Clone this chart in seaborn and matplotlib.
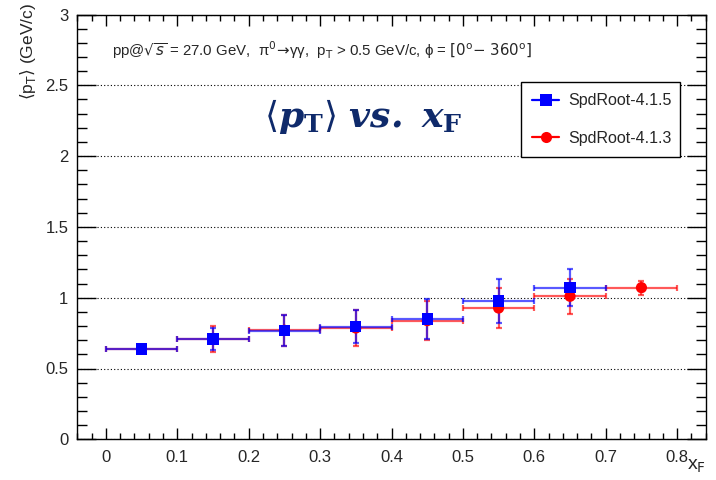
import numpy as np
import pandas as pd
import seaborn as sns
import matplotlib
matplotlib.use("Agg")
import matplotlib.pyplot as plt
from matplotlib.lines import Line2D
from matplotlib.ticker import MultipleLocator

# <pT> vs xF for two SpdRoot versions (bin centres, half-widths, means, errors)
xf_415 = [0.05, 0.15, 0.25, 0.35, 0.45, 0.55, 0.65]
pt_415 = [0.638, 0.708, 0.767, 0.795, 0.850, 0.977, 1.071]
err_415 = [0.015, 0.077, 0.110, 0.118, 0.142, 0.155, 0.130]

xf_413 = [0.05, 0.15, 0.25, 0.35, 0.45, 0.55, 0.65, 0.75]
pt_413 = [0.638, 0.710, 0.770, 0.786, 0.838, 0.927, 1.010, 1.071]
err_413 = [0.015, 0.090, 0.110, 0.126, 0.136, 0.144, 0.122, 0.050]

bin_half = 0.05
versions = ["SpdRoot-4.1.5", "SpdRoot-4.1.3"]
colors = {"SpdRoot-4.1.5": "#0000ff", "SpdRoot-4.1.3": "#ff0000"}
markers = {"SpdRoot-4.1.5": "s", "SpdRoot-4.1.3": "o"}

df = pd.concat([
    pd.DataFrame({"xF": xf_415, "pT": pt_415, "err": err_415, "version": versions[0]}),
    pd.DataFrame({"xF": xf_413, "pT": pt_413, "err": err_413, "version": versions[1]}),
], ignore_index=True)

sns.set_theme(style="ticks")
plt.rcParams["font.family"] = ["Liberation Sans", "DejaVu Sans"]

W, H = 716, 480
fig = plt.figure(figsize=(W / 100, H / 100), dpi=100)
ax = fig.add_axes([77.3 / W, 1 - 439.3 / H, (705.7 - 77.3) / W, (439.3 - 14.5) / H])

# error bars first (older version underneath)
for ver in [versions[1], versions[0]]:
    d = df[df.version == ver]
    ax.errorbar(d.xF, d.pT, xerr=bin_half, yerr=d.err, fmt="none",
                ecolor=colors[ver], elinewidth=1.6, capsize=2.5, capthick=1.6,
                alpha=0.65, zorder=3)

sns.scatterplot(data=df.iloc[::-1], x="xF", y="pT", hue="version", style="version",
                palette=colors, markers=markers, s=65, linewidth=0,
                hue_order=versions[::-1], style_order=versions[::-1],
                legend=False, ax=ax, zorder=4)

ax.set_xlim(-0.04, 0.84)
ax.set_ylim(0, 3)
ax.set_xticks(np.arange(0, 0.81, 0.1))
ax.set_xticklabels(["0", "0.1", "0.2", "0.3", "0.4", "0.5", "0.6", "0.7", "0.8"])
ax.xaxis.set_minor_locator(MultipleLocator(0.02))
ax.set_yticks(np.arange(0, 3.01, 0.5))
ax.set_yticklabels(["0", "0.5", "1", "1.5", "2", "2.5", "3"])
ax.yaxis.set_minor_locator(MultipleLocator(0.1))

ax.tick_params(axis="x", which="major", direction="in", length=8, width=1,
               top=True, bottom=True, labelsize=12, pad=7.5, color="black")
ax.tick_params(axis="x", which="minor", direction="in", length=4, width=1,
               top=True, bottom=True, color="black")
ax.tick_params(axis="y", which="major", direction="in", length=13.5, width=1,
               left=True, right=True, labelsize=12, pad=6.5, color="black")
ax.tick_params(axis="y", which="minor", direction="in", length=7, width=1,
               left=True, right=True, color="black")
for s in ax.spines.values():
    s.set_color("black")
    s.set_linewidth(1)

ax.yaxis.grid(True, which="major", linestyle=(0, (1, 2)), color="black", linewidth=0.8)
ax.xaxis.grid(False)
ax.set_xlabel("")
ax.set_ylabel("")

fig.text(28 / W, 1 - 3 / H, r"$\langle$p$_{\mathrm{T}}$$\rangle$ (GeV/c)", rotation=90,
         rotation_mode="anchor", ha="right", va="center", fontsize=12.5)
fig.text(706 / W, 1 - 470 / H, r"x$_{\mathrm{F}}$", ha="right", va="baseline", fontsize=14)

ax.text(0.055, 0.915,
        r"pp@$\sqrt{s}$ = 27.0 GeV,  π$^{0}$$\!\rightarrow\!$γγ,  p$_{\mathrm{T}}$ > 0.5 GeV/c, "
        r"ϕ = $\left[0^{\mathrm{o}}\mathrm{-}\ 360^{\mathrm{o}}\right]$",
        transform=ax.transAxes, fontsize=10.8, ha="left", va="center")

fig.text(363 / W, 1 - 117 / H,
         r"$\langle\mathbfit{p}_{\mathbf{T}}\rangle\ \mathbfit{vs.}\ \mathbfit{x}_{\mathbf{F}}$",
         ha="center", va="center", fontsize=26, color="#0f2a6b",
         math_fontfamily="dejavuserif")

handles = [Line2D([0], [0], color=colors[v], marker=markers[v], markersize=8,
                  linewidth=1.6, markeredgewidth=0) for v in versions]
leg = ax.legend(handles, versions, loc="upper left",
                bbox_to_anchor=((521 - 77.3) / 628.4, (439.3 - 155) / 424.8,
                                159 / 628.4, 73 / 424.8), mode="expand",
                fontsize=11.5, frameon=True, fancybox=False, edgecolor="black",
                framealpha=1, handlelength=1.7, handletextpad=0.55,
                labelspacing=1.4, borderpad=0.7, borderaxespad=0)
leg.get_frame().set_linewidth(1)

fig.savefig("out.png", dpi=100)
